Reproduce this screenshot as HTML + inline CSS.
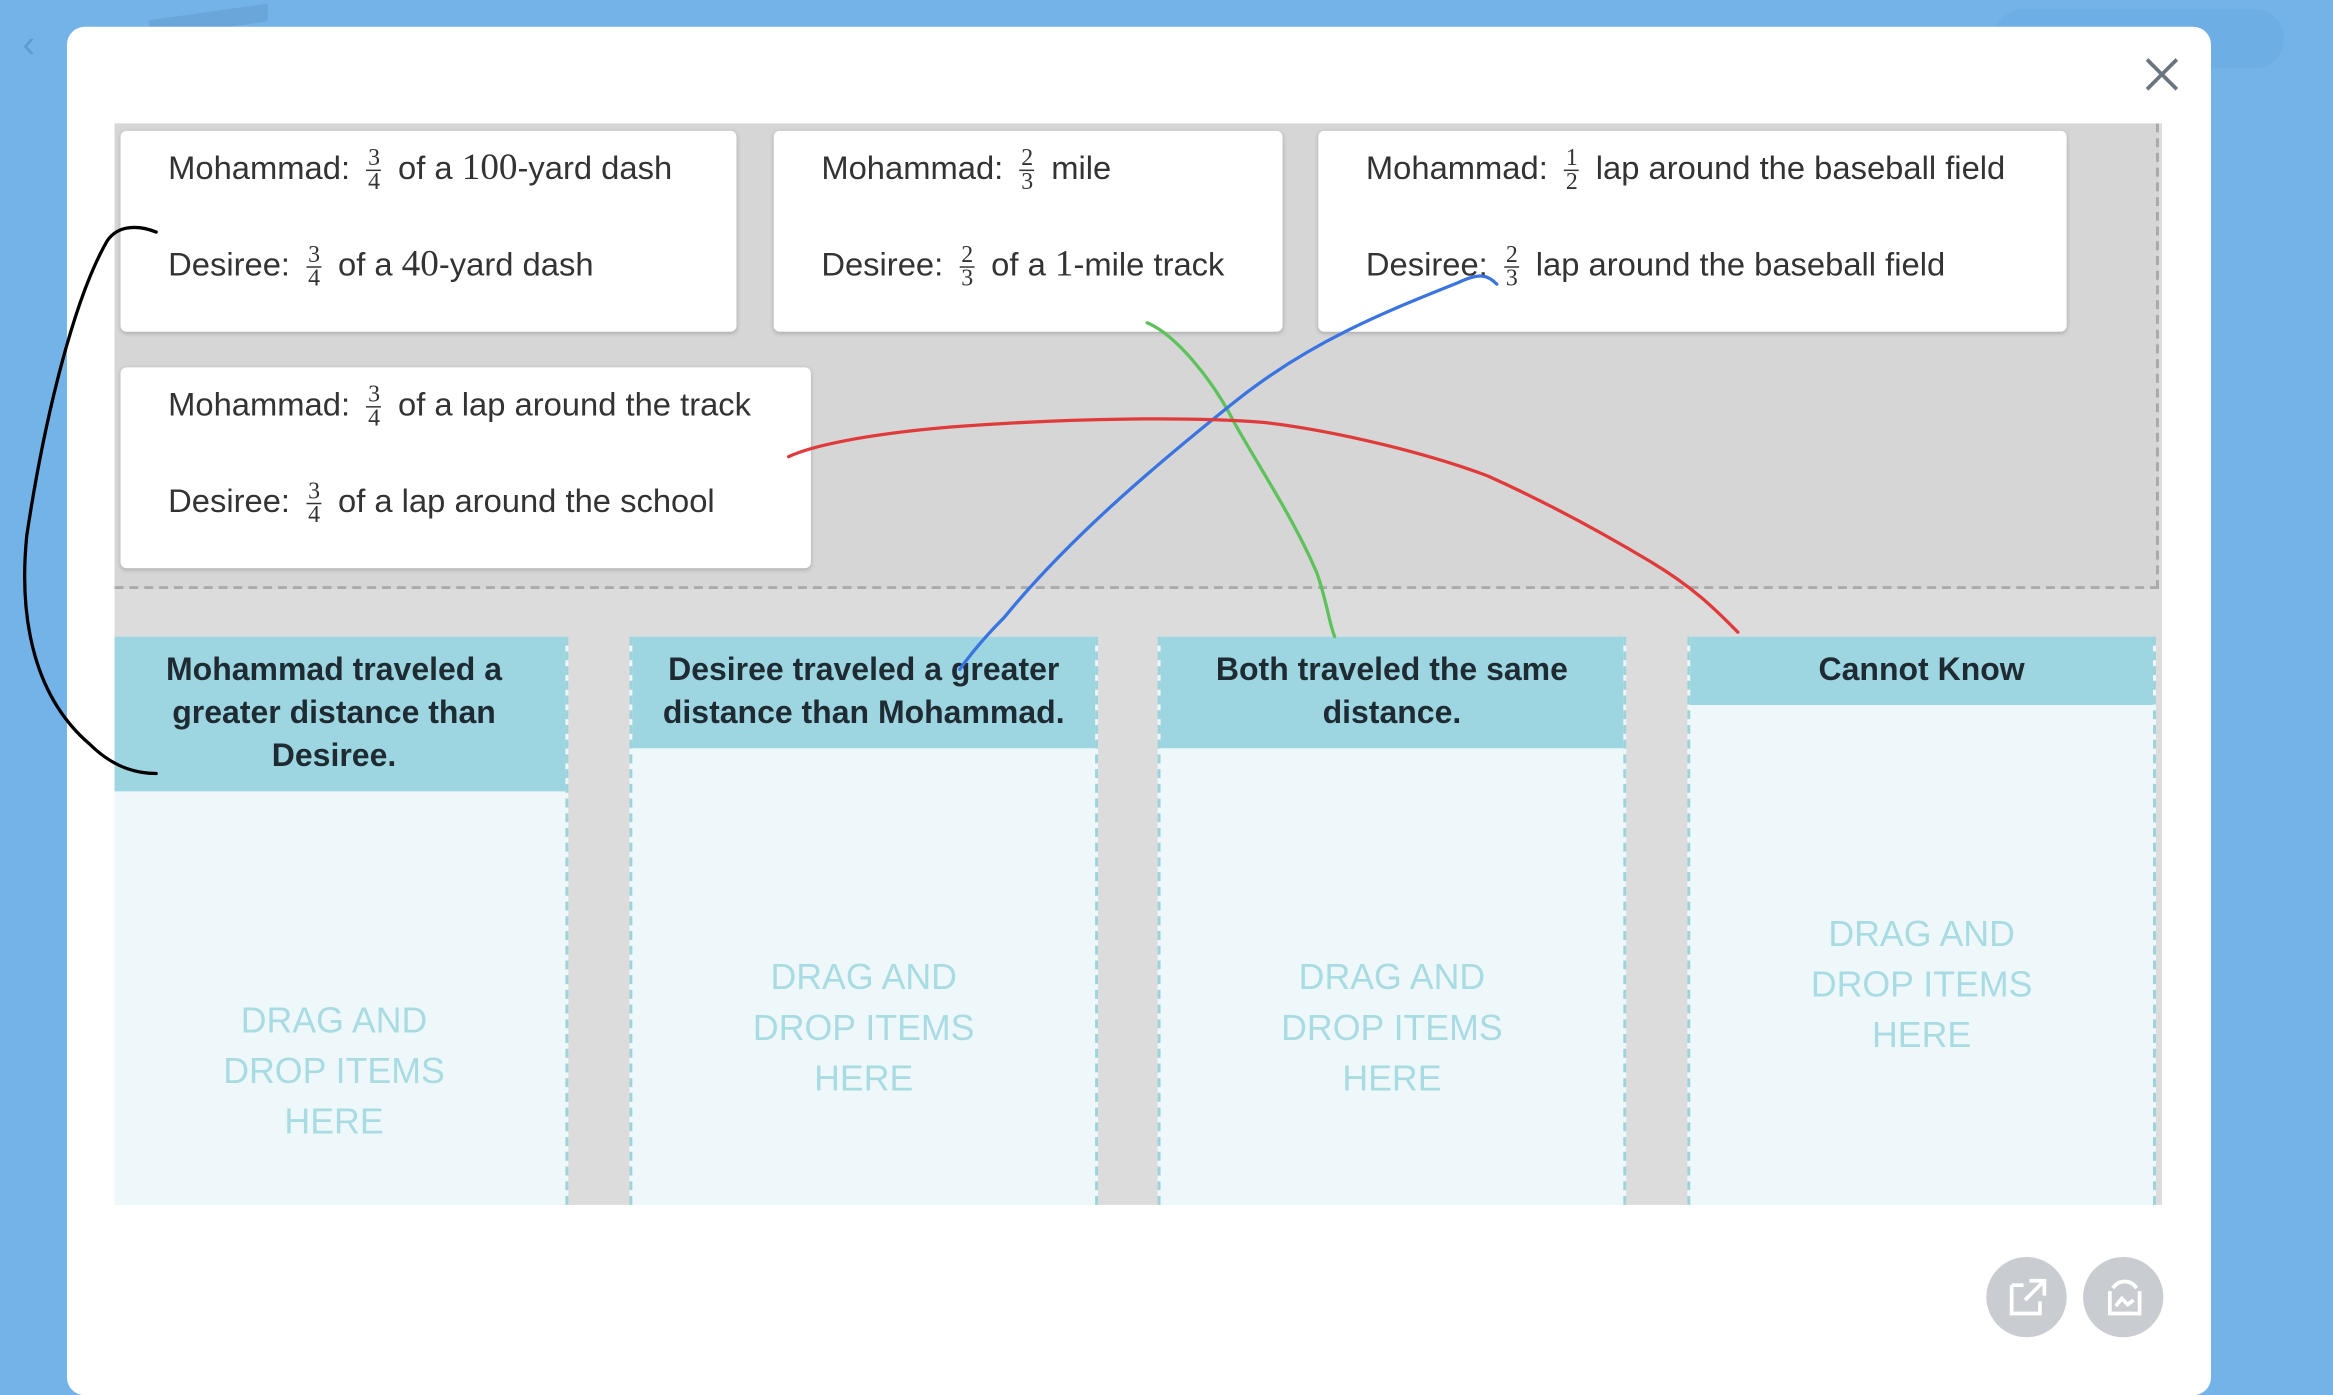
<!DOCTYPE html>
<html><head><meta charset="utf-8"><style>
html,body{margin:0;padding:0;width:2333px;height:1364px;overflow:hidden;background:#74b3e8;}
#s{position:absolute;left:0;top:0;width:1568px;height:917px;transform:scale(1.4879,1.4875);transform-origin:0 0;font-family:"Liberation Sans",sans-serif;}
.abs{position:absolute;}
.modal{left:45px;top:18px;width:1441px;height:920px;background:#fff;border-radius:12px;}
.gray{left:77px;top:83px;width:1376px;height:727px;background:#dcdcdc;}
.top{left:77px;top:83px;width:1372px;height:311px;background:#d6d6d6;border-right:2px dashed #aaa;border-bottom:2px dashed #aaa;}
.card{background:#fff;border-radius:4px;box-shadow:0 1px 3px rgba(0,0,0,.2);font-size:22px;color:#333;}
.card .l{position:absolute;left:32px;white-space:nowrap;}
.fr{display:inline-block;vertical-align:middle;text-align:center;font-family:"Liberation Serif",serif;font-size:16px;line-height:15px;margin:0 5px;}
.fr span{display:block;}
.fr span:first-child{border-bottom:1px solid #333;padding:0 1px;}
.num{font-family:"Liberation Serif",serif;font-size:25px;}
.col{background:#eef8fa;border-right:2px dashed #9fd3dc;border-left:2px dashed #9fd3dc;}
.hd{position:absolute;left:0;top:0;right:0;background:#9dd6e0;color:#1f2b33;font-weight:bold;font-size:21.5px;line-height:29px;text-align:center;padding-top:8px;box-sizing:border-box;}
.dd{position:absolute;left:0;right:0;text-align:center;color:#a9dbe3;font-size:24px;line-height:34px;font-weight:300;}
.btn{width:54px;height:54px;border-radius:50%;background:#c9cdd1;}
</style></head><body><div id="s">
<div class="abs" style="left:100px;top:8px;width:80px;height:12px;background:#6aa6da;transform:skewY(-8deg)"></div>
<div class="abs" style="left:15px;top:14px;color:#5e9bd3;font-size:26px">&#8249;</div>
<div class="abs" style="left:1340px;top:6px;width:195px;height:40px;border-radius:20px;background:#6daee4"></div>
<div class="abs modal"></div>
<svg class="abs" style="left:1440px;top:37px" width="26" height="26"><path d="M3 3L23 23M23 3L3 23" stroke="#6b7580" stroke-width="2.5"/></svg>
<div class="abs gray"></div>
<div class="abs top"></div>

<div class="abs card" style="left:81px;top:88px;width:414px;height:135px">
<div class="l" style="top:11px">Mohammad: <span class="fr"><span>3</span><span>4</span></span> of a <span class="num">100</span>-yard dash</div>
<div class="l" style="top:76px">Desiree: <span class="fr"><span>3</span><span>4</span></span> of a <span class="num">40</span>-yard dash</div></div>
<div class="abs card" style="left:520px;top:88px;width:342px;height:135px">
<div class="l" style="top:11px">Mohammad: <span class="fr"><span>2</span><span>3</span></span> mile</div>
<div class="l" style="top:76px">Desiree: <span class="fr"><span>2</span><span>3</span></span> of a <span class="num">1</span>-mile track</div></div>
<div class="abs card" style="left:886px;top:88px;width:503px;height:135px">
<div class="l" style="top:11px">Mohammad: <span class="fr"><span>1</span><span>2</span></span> lap around the baseball field</div>
<div class="l" style="top:76px">Desiree: <span class="fr"><span>2</span><span>3</span></span> lap around the baseball field</div></div>
<div class="abs card" style="left:81px;top:247px;width:464px;height:135px">
<div class="l" style="top:11px">Mohammad: <span class="fr"><span>3</span><span>4</span></span> of a lap around the track</div>
<div class="l" style="top:76px">Desiree: <span class="fr"><span>3</span><span>4</span></span> of a lap around the school</div></div>

<div class="abs col" style="left:77px;top:428px;width:303px;height:382px;border-left:none"><div class="hd" style="height:104px;padding-right:8px">Mohammad traveled a<br>greater distance than<br>Desiree.</div><div class="dd" style="top:242px;padding-right:8px">DRAG AND<br>DROP ITEMS<br>HERE</div></div>
<div class="abs col" style="left:423px;top:428px;width:311px;height:382px"><div class="hd" style="height:75px">Desiree traveled a greater<br>distance than Mohammad.</div><div class="dd" style="top:213px">DRAG AND<br>DROP ITEMS<br>HERE</div></div>
<div class="abs col" style="left:778px;top:428px;width:311px;height:382px"><div class="hd" style="height:75px">Both traveled the same<br>distance.</div><div class="dd" style="top:213px">DRAG AND<br>DROP ITEMS<br>HERE</div></div>
<div class="abs col" style="left:1134px;top:428px;width:311px;height:382px"><div class="hd" style="height:46px">Cannot Know</div><div class="dd" style="top:184px">DRAG AND<br>DROP ITEMS<br>HERE</div></div>

<div class="abs btn" style="left:1335px;top:845px"></div>
<div class="abs btn" style="left:1400px;top:845px"></div>
<svg class="abs" style="left:1349px;top:858px" width="28" height="28"><path d="M3 6H11M3 6V25H22V17M15 3H25V13M25 3L12 16" stroke="#fff" stroke-width="2.5" fill="none"/></svg>
<svg class="abs" style="left:1414px;top:858px" width="28" height="28"><path d="M4 10V25H24V10M6 8C10 2 18 2 22 8M8 20L12 15L16 19L20 16" stroke="#fff" stroke-width="2.5" fill="none"/></svg>

<svg class="abs" style="left:0;top:0" width="1568" height="917" fill="none" stroke-width="2.2" stroke-linecap="round">
<path d="M105 156C95 152 80 150 72 162C50 200 30 280 18 360C12 420 25 470 60 500C75 515 90 520 105 520" stroke="#000"/>
<path d="M771 217C790 225 815 255 830 285C850 320 870 350 885 385C892 405 893 418 897 428" stroke="#5ec25a"/>
<path d="M1006 191C1000 185 995 183 980 190C930 210 880 230 830 270C780 310 720 360 675 415C660 430 650 443 645 450" stroke="#3a74e0"/>
<path d="M530 307C545 300 580 292 640 287C720 281 800 280 850 284C900 290 960 305 1000 320C1040 338 1080 360 1110 378C1140 396 1155 412 1168 425" stroke="#e03a3a"/>
</svg>
</div></body></html>
